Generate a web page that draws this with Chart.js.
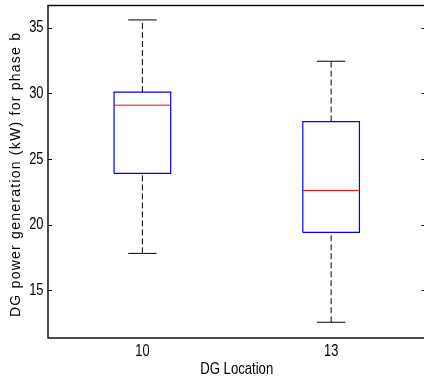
<!DOCTYPE html>
<html>
<head>
<meta charset="utf-8">
<script src="https://cdn.jsdelivr.net/npm/chart.js@4.4.1/dist/chart.umd.min.js"></script>
<style>
  html, body { margin: 0; padding: 0; background: #fff; overflow: hidden; }
  #wrap { width: 428px; height: 381px; }
</style>
</head>
<body>
<div id="wrap"><canvas id="c" width="428" height="381"></canvas></div>
<script>
// ---- data ----
const categories   = ['10', '13'];
const whiskerLow   = [17.8, 12.55];
const quartile1    = [23.9, 19.4];
const medianVals   = [29.1, 22.6];
const quartile3    = [30.1, 27.85];
const whiskerHigh  = [35.6, 32.45];
const yTickValues  = [15, 20, 25, 30, 35];
const xTitle = 'DG Location';
const yTitle = 'DG power generation (kW) for phase b';

const FONT = "'Liberation Sans', Arial, sans-serif";
const BOX_HALF = 0.15;
const CAP_HALF = 0.075;

const datasets = [];
categories.forEach((cat, i) => {
  const c = i + 1;
  datasets.push({ data: [{x: c, y: quartile3[i]}, {x: c, y: whiskerHigh[i]}],
    borderColor: '#000', borderWidth: 1, borderDash: [6, 3] });
  datasets.push({ data: [{x: c, y: whiskerLow[i]}, {x: c, y: quartile1[i]}],
    borderColor: '#000', borderWidth: 1, borderDash: [6, 3] });
  datasets.push({ data: [{x: c - CAP_HALF, y: whiskerHigh[i]}, {x: c + CAP_HALF, y: whiskerHigh[i]}],
    borderColor: '#000', borderWidth: 1 });
  datasets.push({ data: [{x: c - CAP_HALF, y: whiskerLow[i]}, {x: c + CAP_HALF, y: whiskerLow[i]}],
    borderColor: '#000', borderWidth: 1 });
  datasets.push({ data: [{x: c - BOX_HALF, y: medianVals[i]}, {x: c + BOX_HALF, y: medianVals[i]}],
    borderColor: '#ff0000', borderWidth: 1 });
  datasets.push({ data: [
      {x: c - BOX_HALF, y: quartile1[i]}, {x: c + BOX_HALF, y: quartile1[i]},
      {x: c + BOX_HALF, y: quartile3[i]}, {x: c - BOX_HALF, y: quartile3[i]},
      {x: c - BOX_HALF, y: quartile1[i]}],
    borderColor: '#0000ff', borderWidth: 1.2 });
});
datasets.forEach(d => { d.showLine = true; d.pointRadius = 0; d.fill = false; d.tension = 0; });

function narrowText(ctx, text, x, y, size, align, sx) {
  ctx.save();
  ctx.translate(x, y);
  ctx.scale(sx, 1);
  ctx.font = size + 'px ' + FONT;
  ctx.fillStyle = '#000';
  ctx.textAlign = align;
  ctx.textBaseline = 'middle';
  ctx.fillText(text, 0, 0);
  ctx.restore();
}

const framePlugin = {
  id: 'frame',
  afterDraw(chart) {
    const {ctx, chartArea: a, scales} = chart;
    ctx.save();
    ctx.strokeStyle = '#000';
    ctx.lineWidth = 1.4;
    ctx.strokeRect(a.left, a.top, a.right - a.left, a.bottom - a.top);
    ctx.lineWidth = 1;
    yTickValues.forEach(v => {
      const yp = scales.y.getPixelForValue(v);
      const y = Math.round(yp) + 0.5;
      ctx.beginPath(); ctx.moveTo(a.left, y); ctx.lineTo(a.left + 4, y); ctx.stroke();
      ctx.beginPath(); ctx.moveTo(a.right, y); ctx.lineTo(a.right - 4, y); ctx.stroke();
      narrowText(ctx, String(v), a.left - 4.5, yp, 17, 'right', 0.76);
    });
    categories.forEach((cat, i) => {
      narrowText(ctx, cat, scales.x.getPixelForValue(i + 1), a.bottom + 14, 16, 'center', 0.8);
    });
    narrowText(ctx, xTitle, (a.left + a.right) / 2, a.bottom + 32, 16, 'center', 0.82);

    // y axis title, spaced along the axis
    ctx.translate(16, 317);
    ctx.rotate(-Math.PI / 2);
    ctx.font = '14px ' + FONT;
    const sx = 1.0;
    const target = 284;
    const chars = Array.from(yTitle);
    const widths = chars.map(ch => ctx.measureText(ch).width * sx);
    const total = widths.reduce((s, w) => s + w, 0);
    const gap = Math.max(0, (target - total) / (chars.length - 1));
    ctx.fillStyle = '#000';
    ctx.textAlign = 'left';
    ctx.textBaseline = 'middle';
    let x = 0;
    chars.forEach((ch, k) => {
      ctx.save();
      ctx.translate(x, 0);
      ctx.scale(sx, 1);
      ctx.fillText(ch, 0, 0);
      ctx.restore();
      x += widths[k] + gap;
    });
    ctx.restore();
  }
};

new Chart(document.getElementById('c'), {
  type: 'scatter',
  data: { datasets },
  plugins: [framePlugin],
  options: {
    responsive: false,
    animation: false,
    layout: { padding: { top: 5.5, right: 2.5, left: 0, bottom: 0 } },
    plugins: { legend: { display: false }, tooltip: { enabled: false } },
    scales: {
      x: {
        type: 'linear', min: 0.5, max: 2.5,
        grid: { display: false, drawTicks: false }, border: { display: false },
        afterBuildTicks: s => { s.ticks = categories.map((_, i) => ({ value: i + 1 })); },
        afterFit: s => { s.height = 43; },
        ticks: { display: false }
      },
      y: {
        type: 'linear', min: 11.35, max: 36.7,
        grid: { display: false, drawTicks: false }, border: { display: false },
        afterBuildTicks: s => { s.ticks = yTickValues.map(v => ({ value: v })); },
        afterFit: s => { s.width = 48; },
        ticks: { display: false }
      }
    }
  }
});
</script>
</body>
</html>
